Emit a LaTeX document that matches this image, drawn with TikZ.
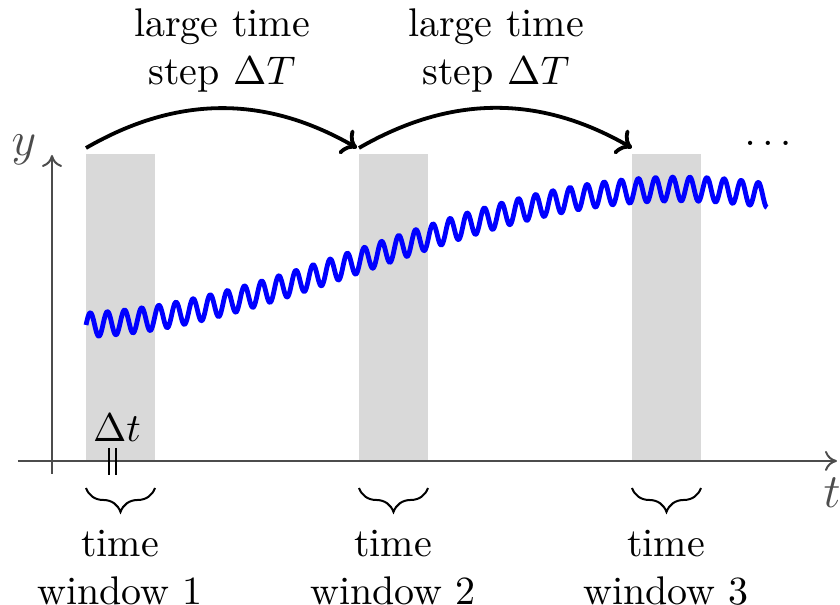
\documentclass[tikz,border=0pt]{standalone}
\usetikzlibrary{decorations.pathreplacing,arrows.meta}
\begin{document}
\begin{tikzpicture}[x=0.25pt,y=-0.25pt,
  win/.style={fill=black!15,draw=none,inner sep=0pt,minimum width=17.25pt,minimum height=76.75pt},
  axis/.style={draw=black!70,line width=0.5pt,-{To[length=3pt,width=5pt]}},
  axlabel/.style={text=black!70,font=\large,inner sep=0pt},
  jump/.style={draw=black,line width=0.95pt,-{To[length=3.5pt,width=7pt]},bend left=30},
  txt/.style={align=center,inner sep=0pt},
  wave/.style={draw=blue,line width=1.2pt,line join=round},
  bracestyle/.style={draw=black,line width=0.5pt,decorate,decoration={brace,amplitude=6pt}}]
\useasboundingbox (0,0) rectangle (840,605);
% windows
\node[win] (w1) at (120.5,307.5) {};
\node[win] (w2) at (393.5,307.5) {};
\node[win] (w3) at (666.5,307.5) {};
% axes
\coordinate (xs) at (18,461);
\coordinate (xe) at (837,461);
\coordinate (ys) at (52,474);
\coordinate (ye) at (52,155);
\draw[axis] (xs) -- (xe);
\draw[axis] (ys) -- (ye);
\node[axlabel] (ylab) at (24,150) {$y$};
\node[axlabel] (tlab) at (832,493) {$t$};
% wave
\draw[wave] plot[domain=86:767,samples=900,smooth]
  (\x,{257.3-68.3*sin((\x-370)*0.290323)-12*sin((\x-86)*21.0158)});
% big step arrows
\coordinate (a1) at (86,148);
\coordinate (a2) at (357,148);
\coordinate (a2s) at (359,148);
\coordinate (a3) at (632,148);
\draw[jump] (a1) to (a2);
\draw[jump] (a2s) to (a3);
\node[txt] (L1) at (222,51) {large time\\ step $\Delta T$};
\node[txt] (L2) at (496,51) {large time\\ step $\Delta T$};
\node (dots) at (768,143) {$\dots$};
% small step
\coordinate (t1a) at (109.5,448);
\coordinate (t1b) at (109.5,475);
\coordinate (t2a) at (116.5,448);
\coordinate (t2b) at (116.5,475);
\draw[line width=0.5pt] (t1a) -- (t1b) (t2a) -- (t2b);
\node[inner sep=0pt] (dt) at (117,428) {$\Delta t$};
% braces
\coordinate (b1l) at (86,488); \coordinate (b1r) at (155,488);
\coordinate (b2l) at (359,488); \coordinate (b2r) at (428,488);
\coordinate (b3l) at (632,488); \coordinate (b3r) at (701,488);
\draw[bracestyle] (b1r) -- (b1l);
\draw[bracestyle] (b2r) -- (b2l);
\draw[bracestyle] (b3r) -- (b3l);
\node[txt] (W1) at (120,568) {time\\ window 1};
\node[txt] (W2) at (393,568) {time\\ window 2};
\node[txt] (W3) at (666,568) {time\\ window 3};
\end{tikzpicture}
\end{document}
